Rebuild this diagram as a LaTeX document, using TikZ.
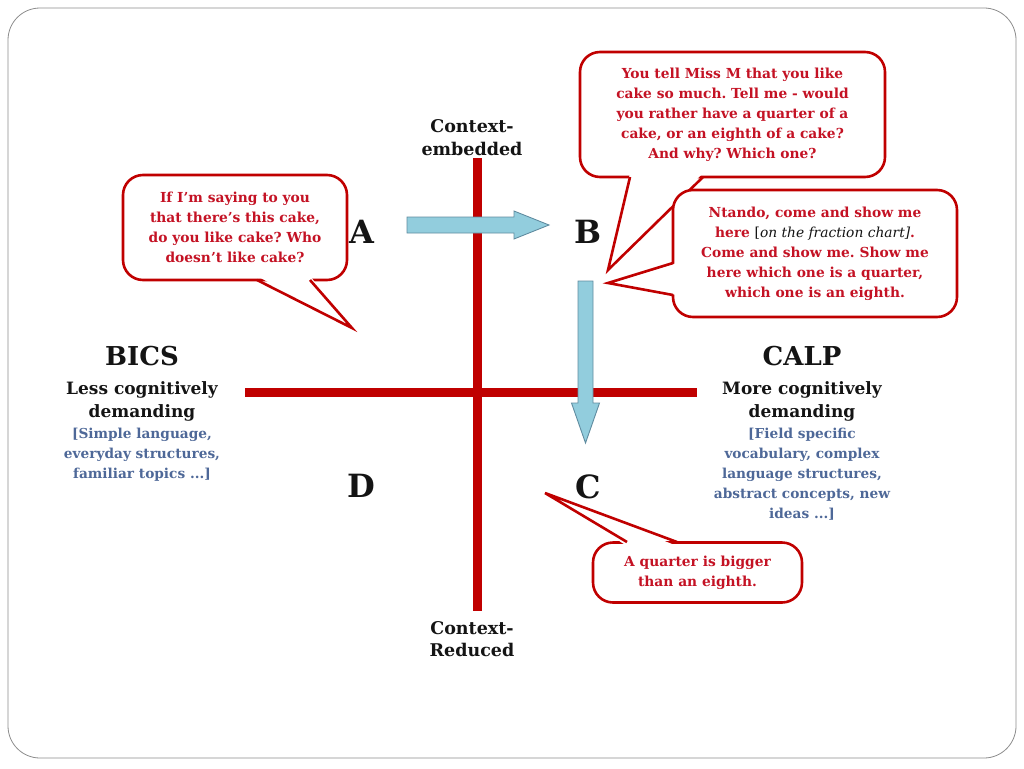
\documentclass[tikz,border=0pt]{standalone}
\usepackage{fontspec}
\setmainfont{DejaVu Serif}
\frenchspacing
\definecolor{axred}{RGB}{192,0,0}
\definecolor{txtred}{RGB}{196,18,36}
\definecolor{bluetxt}{RGB}{78,104,152}
\definecolor{arrfill}{RGB}{146,205,221}
\definecolor{arrline}{RGB}{96,140,160}
\definecolor{ink}{RGB}{20,20,20}
\newcommand{\fs}[2]{\fontsize{#1}{#2}\selectfont}
\tikzset{
  frame/.style={draw=black!45, line width=0.8pt, rounded corners=32pt},
  axis/.style={draw=axred, line width=8.5pt},
  blockarrow/.style={fill=arrfill, draw=arrline, line width=0.9pt, line join=miter},
  callbox/.style={draw=axred, line width=2.6pt, fill=white, rounded corners=20pt,
    text=txtred, font=\bfseries\fs{13.8}{20}, align=center, inner sep=0pt},
  calltail/.style={draw=axred, line width=2.6pt, line join=miter},
  letter/.style={font=\bfseries\fs{32}{36}, text=ink, anchor=base, inner sep=0pt},
  title/.style={font=\bfseries\fs{26}{30}, text=ink, anchor=base, inner sep=0pt},
  sub/.style={font=\bfseries\fs{17}{23}, text=ink, align=center, inner sep=0pt},
  ctx/.style={font=\bfseries\fs{17.5}{22.5}, text=ink, align=center, inner sep=0pt},
  bluetext/.style={font=\bfseries\fs{13.7}{20}, text=bluetxt, align=center, inner sep=0pt}
}
\begin{document}
\begin{tikzpicture}[x=1pt,y=-1pt]
\useasboundingbox (0,0) rectangle (1024,768);
\draw[frame] (8,8) rectangle (1016,758);

% axes
\coordinate (vtop) at (477.5,158);
\coordinate (vbot) at (477.5,611);
\coordinate (hl) at (245,392.5);
\coordinate (hr) at (697,392.5);
\draw[axis] (vtop) -- (vbot);
\draw[axis] (hl) -- (hr);

% axis labels
\node[ctx] (embedded) at (472,137.5) {Context-\\embedded};
\node[ctx] (reduced) at (472,639) {Context-\\Reduced};

% quadrant letters
\node[letter] (A) at (361.5,243) {A};
\node[letter] (B) at (588,243) {B};
\node[letter] (C) at (588,498) {C};
\node[letter] (D) at (361.5,497) {D};

% block arrows
\draw[blockarrow] (407,217) -- (514,217) -- (514,211) -- (549,225) -- (514,239) -- (514,233) -- (407,233) -- cycle;
\draw[blockarrow] (578,281) -- (593,281) -- (593,403) -- (599.5,403) -- (585.5,443) -- (571.5,403) -- (578,403) -- cycle;

% BICS
\node[title] (bics) at (142,365) {BICS};
\node[sub] (bicssub) at (142,401.5) {Less cognitively\\demanding};
\node[bluetext] (bicsblue) at (142,454.5) {[Simple language,\\everyday structures,\\familiar topics ...]};

% CALP
\node[title] (calp) at (802,365) {CALP};
\node[sub] (calpsub) at (802,401) {More cognitively\\demanding};
\node[bluetext] (calpblue) at (802,474.5) {[Field specific\\vocabulary, complex\\language structures,\\abstract concepts, new\\ideas ...]};

% callout A
\node[callbox, minimum width=224pt, minimum height=105pt] (callA) at (235,227.5)
  {If I'm saying to you\\that there's this cake,\\do you like cake? Who\\doesn't like cake?};
\coordinate (tipA) at (352,328);
\fill[white] (257,276) -- (tipA) -- (310,276) -- cycle;
\draw[calltail] (257,280) -- (tipA) -- (310,280);

% callout B1
\node[callbox, minimum width=305pt, minimum height=125pt] (callB) at (732.5,114.5)
  {You tell Miss M that you like\\cake so much. Tell me - would\\you rather have a quarter of a\\cake, or an eighth of a cake?\\And why? Which one?};
\coordinate (tipB) at (608,270);
\fill[white] (630,173) -- (tipB) -- (703,173) -- cycle;
\draw[calltail] (630,177) -- (tipB) -- (703,177);

% callout B2
\node[callbox, minimum width=284pt, minimum height=127pt] (callB2) at (815,253.5)
  {Ntando, come and show me\\here {\color{ink}\mdseries[\itshape on the fraction chart\/]}.\\Come and show me. Show me\\here which one is a quarter,\\which one is an eighth.};
\coordinate (tipB2) at (608,283);
\fill[white] (677,263) -- (tipB2) -- (677,295) -- cycle;
\draw[calltail] (673,263) -- (tipB2) -- (673,295);

% callout C
\node[callbox, minimum width=209pt, minimum height=60pt] (callC) at (697.5,572.5)
  {A quarter is bigger\\than an eighth.};
\coordinate (tipC) at (545,493);
\fill[white] (627,546) -- (tipC) -- (677,546) -- cycle;
\draw[calltail] (627,542) -- (tipC) -- (677,542);
\end{tikzpicture}
\end{document}
